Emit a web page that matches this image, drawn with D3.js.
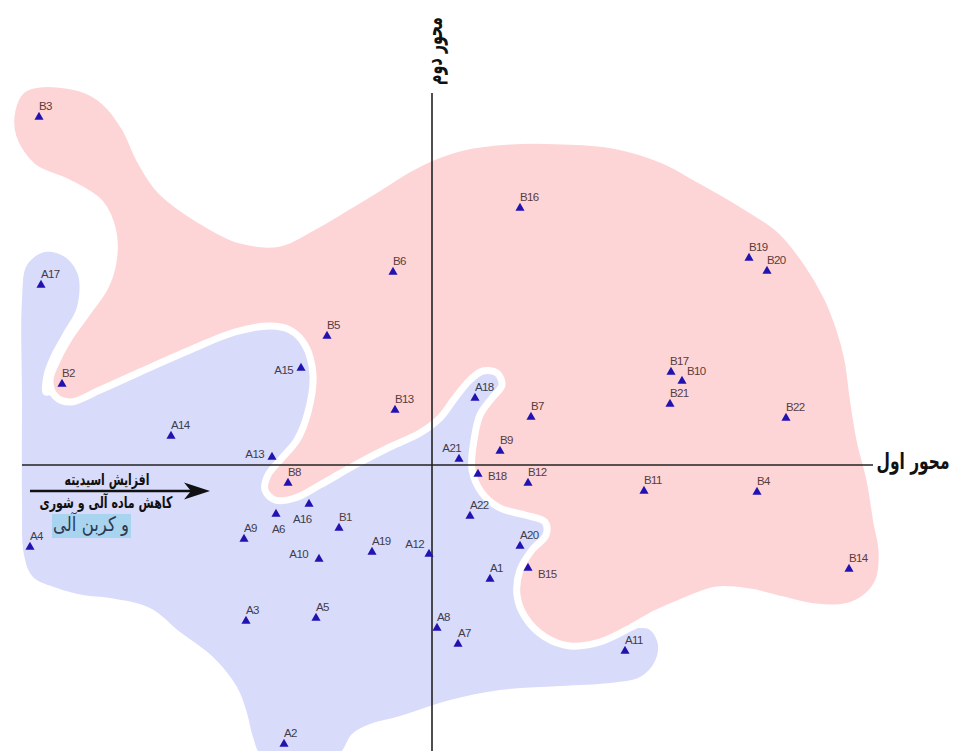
<!DOCTYPE html>
<html lang="fa">
<head>
<meta charset="utf-8">
<script src="https://cdn.jsdelivr.net/npm/d3@7/dist/d3.min.js"></script>
<style>
  html, body { margin: 0; padding: 0; background: #fff; }
  svg { display: block; }
</style>
</head>
<body>
<script>
// امتیاز نمونه‌ها روی دو محور (گروه A)
const groupANames = ["A1","A2","A3","A4","A5","A6","A7","A8","A9","A10","A11",
  "A12","A13","A14","A15","A16","A17","A18","A19","A20","A21","A22"];
const groupAAxis1 = [0.58,-1.48,-1.86,-4.02,-1.16,-1.56,0.26,0.05,-1.88,-1.13,1.93,
  -0.03,-1.60,-2.61,-1.31,-1.23,-3.91,0.43,-0.60,0.88,0.27,0.38];
const groupAAxis2 = [-1.14,-2.79,-1.56,-0.82,-1.53,-0.49,-1.79,-1.63,-0.74,-0.94,-1.86,
  -0.89,0.08,0.29,0.97,-0.39,1.80,0.67,-0.87,-0.81,0.06,-0.51];

// گروه B
const groupBNames = ["B1","B2","B3","B4","B5","B6","B7","B8","B9","B10","B11",
  "B12","B13","B14","B15","B16","B17","B18","B19","B20","B21","B22"];
const groupBAxis1 = [-0.93,-3.70,-3.93,3.25,-1.05,-0.39,0.99,-1.44,0.68,2.50,2.12,
  0.96,-0.37,4.17,0.96,0.88,2.39,0.46,3.17,3.35,2.38,3.54];
const groupBAxis2 = [-0.63,0.81,3.48,-0.27,1.29,1.93,0.48,-0.18,0.14,0.84,-0.26,
  -0.18,0.55,-1.04,-1.03,2.57,0.93,-0.09,2.07,1.94,0.61,0.47];

// مرز ناحیه هر گروه (بر حسب واحد محورها)
const groupAOutline = [
  [-3.87,2.13],[-3.67,2.08],[-3.54,1.90],[-3.55,1.58],[-3.69,1.32],[-3.82,1.08],
  [-3.89,0.87],[-3.88,0.70],[-3.42,0.87],[-2.72,1.13],[-2.02,1.43],[-1.57,1.51],
  [-1.30,1.41],[-1.12,1.05],[-1.02,0.45],[0.00,0.65],[0.38,1.03],[0.76,0.95],
  [0.70,0.45],[0.63,-0.05],[1.20,-0.43],[1.28,-0.75],[1.00,-1.15],[1.13,-1.57],
  [1.68,-1.63],[2.03,-1.63],[2.18,-1.65],[2.26,-1.80],[2.22,-1.98],[2.08,-2.12],
  [1.78,-2.18],[1.28,-2.21],[0.68,-2.25],[0.18,-2.35],[-0.32,-2.51],[-0.62,-2.59],
  [-0.80,-2.69],[-0.95,-2.90],[-1.70,-2.90],[-1.79,-2.72],[-1.85,-2.48],[-1.95,-2.22],
  [-2.19,-1.92],[-2.52,-1.67],[-2.82,-1.43],[-3.22,-1.33],[-3.49,-1.30],[-3.75,-1.23],
  [-3.99,-1.12],[-4.08,-0.90],[-4.10,-0.35],[-4.10,0.65],[-4.10,1.65],[-4.05,2.00]
];
const groupBOutline = [
  [-3.92,3.81],[-3.52,3.77],[-3.27,3.63],[-3.07,3.37],[-2.92,3.05],[-2.72,2.75],
  [-2.32,2.45],[-1.92,2.25],[-1.52,2.22],[-1.19,2.38],[-0.85,2.58],[-0.52,2.78],
  [-0.25,2.95],[0.01,3.08],[0.31,3.18],[0.78,3.24],[1.31,3.24],[1.81,3.20],
  [2.31,3.05],[2.68,2.85],[3.08,2.62],[3.48,2.35],[3.75,2.02],[3.95,1.68],
  [4.08,1.35],[4.16,1.05],[4.21,0.68],[4.28,0.25],[4.38,-0.15],[4.45,-0.58],
  [4.50,-0.85],[4.47,-1.15],[4.33,-1.33],[4.13,-1.42],[3.83,-1.42],[3.51,-1.35],
  [3.18,-1.27],[2.85,-1.25],[2.48,-1.38],[2.23,-1.49],[1.98,-1.63],[1.68,-1.77],
  [1.38,-1.81],[1.13,-1.72],[0.93,-1.52],[0.85,-1.30],[0.88,-1.05],[1.00,-0.85],
  [1.14,-0.70],[1.13,-0.57],[0.93,-0.50],[0.68,-0.43],[0.50,-0.28],[0.40,-0.05],
  [0.42,0.25],[0.48,0.50],[0.60,0.67],[0.70,0.80],[0.65,0.92],[0.51,0.94],
  [0.38,0.85],[0.23,0.67],[0.08,0.47],[-0.12,0.32],[-0.42,0.18],[-0.77,0.00],
  [-1.12,-0.20],[-1.37,-0.33],[-1.57,-0.35],[-1.67,-0.25],[-1.64,-0.10],[-1.50,0.07],
  [-1.35,0.25],[-1.24,0.53],[-1.19,0.90],[-1.27,1.20],[-1.42,1.35],[-1.62,1.39],
  [-1.97,1.33],[-2.42,1.15],[-2.92,0.93],[-3.32,0.75],[-3.62,0.63],[-3.77,0.69],
  [-3.82,0.85],[-3.77,1.00],[-3.64,1.25],[-3.45,1.52],[-3.27,1.78],[-3.19,2.03],
  [-3.19,2.33],[-3.32,2.62],[-3.65,2.83],[-3.99,2.98],[-4.19,3.28],[-4.20,3.55],
  [-4.10,3.75]
];

const axisTitles = ["محور اول", "محور دوم"];
const gradientNotes = ["افزایش اسیدیته", "کاهش ماده آلی و شوری", "و کربن آلی"];

const width = 953, height = 751;
const persianFont = "'DejaVu Sans', sans-serif";

const svg = d3.select("body").append("svg")
  .attr("width", width)
  .attr("height", height)
  .attr("viewBox", [0, 0, width, height]);

// 100 پیکسل برای هر واحد، مبدأ در (432, 465)
const x = d3.scaleLinear().domain([-4, 4]).range([32, 832]);
const y = d3.scaleLinear().domain([-3, 3]).range([765, 165]);

const outline = d3.line()
  .x(d => x(d[0]))
  .y(d => y(d[1]))
  .curve(d3.curveCatmullRomClosed.alpha(0.5));

// ناحیه آبی زیر، ناحیه صورتی با حاشیه سفید روی آن
svg.append("path")
  .attr("d", outline(groupAOutline))
  .attr("fill", "#d9dbfb");

svg.append("path")
  .attr("d", outline(groupBOutline))
  .attr("fill", "#fdd5d7")
  .attr("stroke", "#fff")
  .attr("stroke-width", 7)
  .attr("stroke-linejoin", "round");

// محورها
svg.append("line")
  .attr("x1", 22).attr("x2", 873)
  .attr("y1", y(0)).attr("y2", y(0))
  .attr("stroke", "#222").attr("stroke-width", 1.6);

svg.append("line")
  .attr("x1", x(0)).attr("x2", x(0))
  .attr("y1", 93).attr("y2", height)
  .attr("stroke", "#222").attr("stroke-width", 1.6);

// متن فارسی با ارتفاع ثابت، فشرده در جهت افقی تا عرض هدف
function persianText(str, cx, cy, size, targetWidth, opts = {}) {
  const g = svg.append("g");
  const t = g.append("text")
    .attr("text-anchor", "middle")
    .attr("dominant-baseline", "central")
    .attr("font-family", persianFont)
    .attr("font-weight", opts.bold ? "bold" : "normal")
    .attr("font-size", size)
    .attr("fill", opts.fill || "#111")
    .text(str);
  const w = t.node().getComputedTextLength();
  const sx = w > 0 ? targetWidth / w : 1;
  g.attr("transform", `translate(${cx},${cy}) rotate(${opts.rotate || 0}) scale(${sx},1)`);
  return t;
}

persianText(axisTitles[0], 913, 461, 23, 73, { bold: true });
persianText(axisTitles[1], x(0) + 2, 51, 23, 68, { bold: true, rotate: -90 });

// فلش گرادیان
svg.append("line")
  .attr("x1", 30).attr("x2", 192)
  .attr("y1", 491).attr("y2", 491)
  .attr("stroke", "#111").attr("stroke-width", 2.6);
svg.append("path")
  .attr("d", "M210,491 L184,482.5 L191,491 L184,499.5 Z")
  .attr("fill", "#111");

persianText(gradientNotes[0], 107, 479, 16, 85, { bold: true });
persianText(gradientNotes[1], 106, 502, 16, 133, { bold: true });

svg.append("rect")
  .attr("x", 52).attr("y", 514)
  .attr("width", 79).attr("height", 24)
  .attr("fill", "#a9d4ef");

persianText(gradientNotes[2], 91, 524, 20, 76, { fill: "#2c3a52" });

// نقاط
const sites = [
  ...groupANames.map((n, i) => ({ name: n, group: "A", a1: groupAAxis1[i], a2: groupAAxis2[i] })),
  ...groupBNames.map((n, i) => ({ name: n, group: "B", a1: groupBAxis1[i], a2: groupBAxis2[i] }))
];

// جای برچسب نسبت به نماد: [dx, dy, anchor]
const labelPlacement = {
  A15: [-8, 6, "end"],
  A13: [-8, 1, "end"],
  A16: [-16, 19, "start"],
  A6: [-4, 19, "start"],
  A10: [-11, -1, "end"],
  A12: [-5, -6, "end"],
  A21: [2, -7, "end"],
  B18: [10, 6, "start"],
  B15: [10, 10, "start"],
  B17: [-1, -7, "start"],
  B10: [5, -6, "start"]
};
const defaultPlacement = [0, -7, "start"];

const triangle = d3.symbol().type(d3.symbolTriangle).size(36);

svg.append("g")
  .selectAll("path")
  .data(sites)
  .join("path")
  .attr("transform", d => `translate(${x(d.a1)},${y(d.a2)})`)
  .attr("d", triangle)
  .attr("fill", "#2212b0");

svg.append("g")
  .attr("font-family", "'Liberation Sans', Arial, sans-serif")
  .attr("font-size", 11.5)
  .attr("letter-spacing", -0.6)
  .selectAll("text")
  .data(sites)
  .join("text")
  .each(function(d) {
    const p = labelPlacement[d.name] || defaultPlacement;
    d3.select(this)
      .attr("x", x(d.a1) + p[0])
      .attr("y", y(d.a2) + p[1])
      .attr("text-anchor", p[2]);
  })
  .attr("fill", d => d.group === "A" ? "#3d3d4d" : "#5a3b3b")
  .text(d => d.name);
</script>
</body>
</html>
